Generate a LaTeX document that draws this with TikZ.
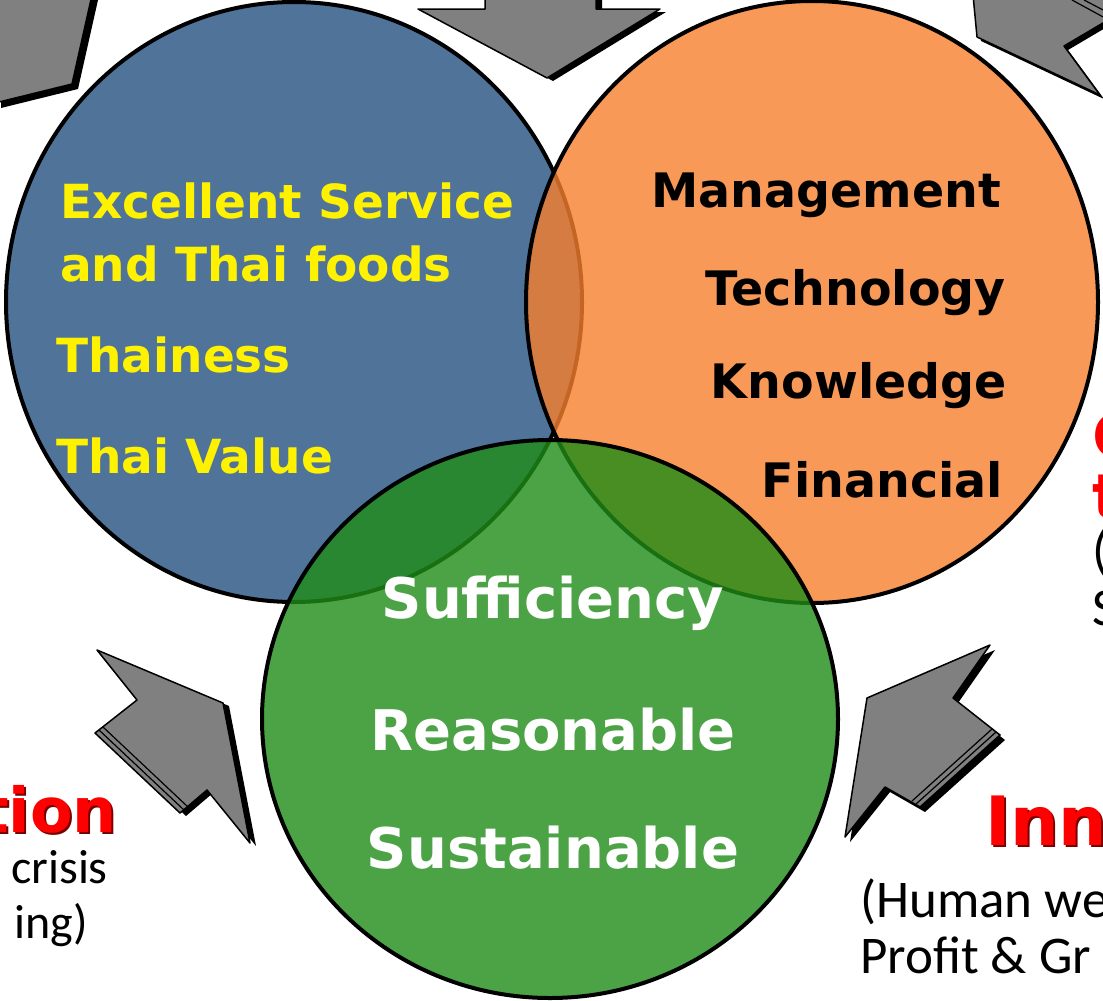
\documentclass[tikz,border=0pt]{standalone}
\usepackage{fontspec}
\newfontfamily\headfont{DejaVu Sans}
\newfontfamily\notefont{Carlito}
\definecolor{circblue}{RGB}{80,115,154}
\definecolor{circorange}{RGB}{247,127,46}
\definecolor{circgreen}{RGB}{30,140,22}
\definecolor{arrowgray}{RGB}{128,128,128}
\definecolor{titlered}{RGB}{255,0,0}
\definecolor{titleshade}{RGB}{120,0,0}

\begin{document}
\begin{tikzpicture}[x=1pt, y=-1pt,
	circ/.style={draw=black, line width=4pt, fill opacity=0.8, draw opacity=1},
	blockarrow/.style={fill=arrowgray, draw=black, line width=1.5pt, line join=round},
	arrowshade/.style={fill=black},
	stripe/.style={draw=black, line width=1.2pt},
	every node/.style={inner sep=0pt},
	yellowtxt/.style={text=yellow, font=\headfont\bfseries\fontsize{47}{56}\selectfont, anchor=base west},
	blacktxt/.style={text=black, font=\headfont\bfseries\fontsize{47.5}{56}\selectfont, anchor=base east},
	whitetxt/.style={text=white, font=\headfont\bfseries\fontsize{56}{66}\selectfont, anchor=base},
	redtxt/.style={text=titlered, font=\headfont\bfseries\fontsize{62}{72}\selectfont},
	redshade/.style={text=titleshade, font=\headfont\bfseries\fontsize{62}{72}\selectfont},
	notetxt/.style={text=black, font=\notefont\fontsize{53}{62}\selectfont}]
	\useasboundingbox (0,0) rectangle (1103,1001);
	\clip (0,0) rectangle (1103,1001);

	% block arrows round the circles
	\fill[arrowshade, shift={(6,5)}] (-5,-5) -- (92,-5) -- (72,84) -- (-5,103) -- cycle;
	\draw[blockarrow] (-5,-5) -- (92,-5) -- (72,84) -- (-5,103) -- cycle;

	\fill[arrowshade, shift={(6,3)}] (485,-5) -- (485,9) -- (418,9) -- (547,78) -- (660,9) -- (596,9) -- (596,-5) -- cycle;
	\draw[blockarrow] (485,-5) -- (485,9) -- (418,9) -- (547,78) -- (660,9) -- (596,9) -- (596,-5) -- cycle;

	\fill[arrowshade, shift={(4,4)}] (973,-5) -- (977,37) -- (1100,95) -- (1064,46) -- (1108,20) -- (1108,-5) -- cycle;
	\draw[blockarrow] (973,-5) -- (977,37) -- (1100,95) -- (1064,46) -- (1108,20) -- (1108,-5) -- cycle;
	\draw[stripe] (1072,0) -- (1105,18);
	\draw[stripe] (1084,0) -- (1105,11);

	\fill[arrowshade, shift={(6,3)}] (97,650) -- (223,703) -- (250,843) -- (207,790) -- (180,813) -- (95,733) -- (137,700) -- cycle;
	\draw[blockarrow] (97,650) -- (223,703) -- (250,843) -- (207,790) -- (180,813) -- (95,733) -- (137,700) -- cycle;
	\draw[stripe] (99,730) -- (184,810);
	\draw[stripe] (103,727) -- (188,807);

	\fill[arrowshade, shift={(5,5)}] (990,645) -- (867,698) -- (845,837) -- (885,787) -- (920,807) -- (1000,735) -- (953,698) -- cycle;
	\draw[blockarrow] (990,645) -- (867,698) -- (845,837) -- (885,787) -- (920,807) -- (1000,735) -- (953,698) -- cycle;
	\draw[stripe] (916,804) -- (996,732);
	\draw[stripe] (912,801) -- (992,729);

	% the three circles
	\draw[circ, fill=circblue, fill opacity=1] (294,302) ellipse [x radius=288pt, y radius=300pt];
	\draw[circ, fill=circorange] (812,302) ellipse [x radius=286pt, y radius=301pt];
	\draw[circ, fill=circgreen] (550,719) ellipse [x radius=288pt, y radius=279pt];

	% blue circle
	\node[yellowtxt] (excellent) at (60,218) {Excellent Service};
	\node[yellowtxt] (thaifoods) at (60,281) {and Thai foods};
	\node[yellowtxt] (thainess) at (56,372) {Thainess};
	\node[yellowtxt] (thaivalue) at (56,473) {Thai Value};

	% orange circle
	\node[blacktxt] (management) at (1001,207) {Management};
	\node[blacktxt] (technology) at (1006,305) {Technology};
	\node[blacktxt] (knowledge) at (1007,398) {Knowledge};
	\node[blacktxt] (financial) at (1003,497) {Financial};

	% green circle
	\node[whitetxt] (sufficiency) at (553,618) {Sufficiency};
	\node[whitetxt] (reasonable) at (553,750) {Reasonable};
	\node[whitetxt] (sustainable) at (553,868) {Sustainable};

	% side labels
	\node[redshade, anchor=base east] at (119,834) {tion};
	\node[redtxt, anchor=base east] (tion) at (117,832) {tion};
	\node[notetxt, anchor=base east, font=\notefont\fontsize{48}{56}\selectfont] (crisis) at (108,883) {crisis};
	\node[notetxt, anchor=base east, font=\notefont\fontsize{48}{56}\selectfont] (ing) at (88,938) {ing)};

	\node[redshade, anchor=base west, font=\headfont\bfseries\fontsize{68}{78}\selectfont] at (987,847) {Inn};
	\node[redtxt, anchor=base west, font=\headfont\bfseries\fontsize{68}{78}\selectfont] (inn) at (985,845) {Inn};
	\node[notetxt, anchor=base west] (human) at (860,917) {(Human we};
	\node[notetxt, anchor=base west] (profit) at (860,973) {Profit \& Gr};

	\node[redtxt, anchor=base west] (redc) at (1092,458) {C};
	\node[redtxt, anchor=base west] (redt) at (1092,518) {t};
	\node[notetxt, anchor=base west] (paren) at (1092,568) {(};
	\node[notetxt, anchor=base west] (lets) at (1092,625) {S};
\end{tikzpicture}
\end{document}
